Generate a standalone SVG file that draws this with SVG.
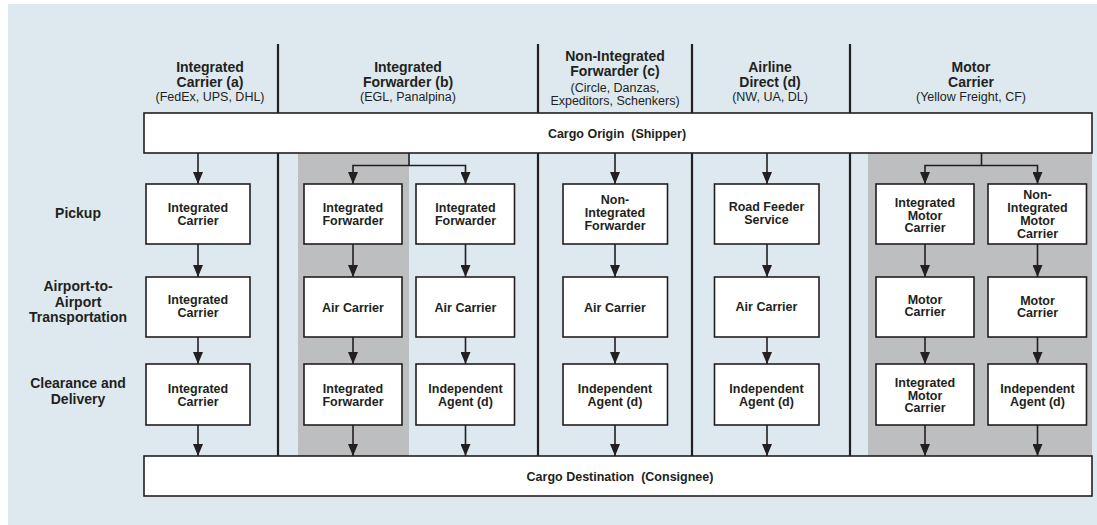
<svg xmlns="http://www.w3.org/2000/svg" width="1097" height="525" viewBox="0 0 1097 525">
<style>
.bg{fill:#dde9ef}
.panel{fill:#bcbec0}
.box{fill:#fff;stroke:#231f20;stroke-width:1.6}
.div{stroke:#231f20;stroke-width:2.2;fill:none}
.conn{stroke:#231f20;stroke-width:1.6;fill:none}
text{font-family:"Liberation Sans",Arial,sans-serif;fill:#231f20;text-anchor:middle}
.h{font-size:14px;font-weight:bold}
.s{font-size:12.5px}
.n{font-size:12.5px;font-weight:bold}
.r{font-size:14px;font-weight:bold}
</style>
<defs>
<marker id="arr" markerUnits="userSpaceOnUse" markerWidth="12" markerHeight="10" refX="12" refY="5" orient="auto-start-reverse" viewBox="0 0 12 10">
<path d="M0,0 L12,5 L0,10 Z" fill="#231f20"/>
</marker>
</defs>
<rect class="bg" x="8" y="4" width="1089" height="521"/>
<rect class="panel" x="298" y="153" width="111" height="303"/>
<rect class="panel" x="868" y="153" width="224" height="303"/>

<g id="dividers">
<line class="div" x1="278" y1="44" x2="278" y2="456"/>
<line class="div" x1="538" y1="44" x2="538" y2="456"/>
<line class="div" x1="692" y1="44" x2="692" y2="456"/>
<line class="div" x1="850" y1="44" x2="850" y2="456"/>
</g>

<g id="headers">
<text class="h" x="210" y="72">Integrated</text>
<text class="h" x="210" y="87">Carrier (a)</text>
<text class="s" x="210" y="101">(FedEx, UPS, DHL)</text>
<text class="h" x="408" y="72">Integrated</text>
<text class="h" x="408" y="87">Forwarder (b)</text>
<text class="s" x="408" y="101">(EGL, Panalpina)</text>
<text class="h" x="615" y="61">Non-Integrated</text>
<text class="h" x="615" y="76">Forwarder (c)</text>
<text class="s" x="615" y="91.5">(Circle, Danzas,</text>
<text class="s" x="615" y="105">Expeditors, Schenkers)</text>
<text class="h" x="770" y="72">Airline</text>
<text class="h" x="770" y="87">Direct (d)</text>
<text class="s" x="770" y="101">(NW, UA, DL)</text>
<text class="h" x="971" y="72">Motor</text>
<text class="h" x="971" y="87">Carrier</text>
<text class="s" x="971" y="101">(Yellow Freight, CF)</text>
</g>

<g id="rowlabels">
<text class="r" x="78" y="218">Pickup</text>
<text class="r" x="78" y="291">Airport-to-</text>
<text class="r" x="78" y="306.5">Airport</text>
<text class="r" x="78" y="322">Transportation</text>
<text class="r" x="78" y="388">Clearance and</text>
<text class="r" x="78" y="404">Delivery</text>
</g>

<g id="connectors">
<line class="conn" x1="198" y1="153" x2="198" y2="184" marker-end="url(#arr)"/>
<line class="conn" x1="198" y1="244" x2="198" y2="277" marker-end="url(#arr)"/>
<line class="conn" x1="198" y1="337" x2="198" y2="364" marker-end="url(#arr)"/>
<line class="conn" x1="198" y1="425" x2="198" y2="456" marker-end="url(#arr)"/>

<polyline class="conn" points="409,153 409,165.5"/>
<polyline class="conn" points="353,184 353,165.5 465.5,165.5 465.5,184" marker-start="url(#arr)" marker-end="url(#arr)"/>
<line class="conn" x1="353" y1="244" x2="353" y2="277" marker-end="url(#arr)"/>
<line class="conn" x1="353" y1="337" x2="353" y2="364" marker-end="url(#arr)"/>
<line class="conn" x1="353" y1="425" x2="353" y2="456" marker-end="url(#arr)"/>
<line class="conn" x1="465.5" y1="244" x2="465.5" y2="277" marker-end="url(#arr)"/>
<line class="conn" x1="465.5" y1="337" x2="465.5" y2="364" marker-end="url(#arr)"/>
<line class="conn" x1="465.5" y1="425" x2="465.5" y2="456" marker-end="url(#arr)"/>

<line class="conn" x1="615" y1="153" x2="615" y2="184" marker-end="url(#arr)"/>
<line class="conn" x1="615" y1="244" x2="615" y2="277" marker-end="url(#arr)"/>
<line class="conn" x1="615" y1="337" x2="615" y2="364" marker-end="url(#arr)"/>
<line class="conn" x1="615" y1="425" x2="615" y2="456" marker-end="url(#arr)"/>

<line class="conn" x1="767" y1="153" x2="767" y2="184" marker-end="url(#arr)"/>
<line class="conn" x1="767" y1="244" x2="767" y2="277" marker-end="url(#arr)"/>
<line class="conn" x1="767" y1="337" x2="767" y2="364" marker-end="url(#arr)"/>
<line class="conn" x1="767" y1="425" x2="767" y2="456" marker-end="url(#arr)"/>

<polyline class="conn" points="981.5,153 981.5,165.5"/>
<polyline class="conn" points="925,184 925,165.5 1037.5,165.5 1037.5,184" marker-start="url(#arr)" marker-end="url(#arr)"/>
<line class="conn" x1="925" y1="244" x2="925" y2="277" marker-end="url(#arr)"/>
<line class="conn" x1="925" y1="337" x2="925" y2="364" marker-end="url(#arr)"/>
<line class="conn" x1="925" y1="425" x2="925" y2="456" marker-end="url(#arr)"/>
<line class="conn" x1="1037.5" y1="244" x2="1037.5" y2="277" marker-end="url(#arr)"/>
<line class="conn" x1="1037.5" y1="337" x2="1037.5" y2="364" marker-end="url(#arr)"/>
<line class="conn" x1="1037.5" y1="425" x2="1037.5" y2="456" marker-end="url(#arr)"/>
</g>

<g id="origin">
<rect class="box" x="144" y="113" width="948" height="40"/>
<text class="n" x="617" y="138" xml:space="preserve">Cargo Origin  (Shipper)</text>
</g>
<g id="destination">
<rect class="box" x="144" y="456" width="948" height="40"/>
<text class="n" x="620" y="481" xml:space="preserve">Cargo Destination  (Consignee)</text>
</g>

<g id="a1"><rect class="box" x="146" y="184" width="104" height="60"/><text class="n" x="198" y="211.5">Integrated</text><text class="n" x="198" y="224.5">Carrier</text></g>
<g id="a2"><rect class="box" x="146" y="277" width="104" height="60"/><text class="n" x="198" y="303.5">Integrated</text><text class="n" x="198" y="316.5">Carrier</text></g>
<g id="a3"><rect class="box" x="146" y="364" width="104" height="61"/><text class="n" x="198" y="392.5">Integrated</text><text class="n" x="198" y="405.5">Carrier</text></g>

<g id="b1"><rect class="box" x="304" y="184" width="98" height="60"/><text class="n" x="353" y="211.5">Integrated</text><text class="n" x="353" y="224.5">Forwarder</text></g>
<g id="b2"><rect class="box" x="304" y="277" width="98" height="60"/><text class="n" x="353" y="311.5">Air Carrier</text></g>
<g id="b3"><rect class="box" x="304" y="364" width="98" height="61"/><text class="n" x="353" y="392.5">Integrated</text><text class="n" x="353" y="405.5">Forwarder</text></g>

<g id="b4"><rect class="box" x="416" y="184" width="98.5" height="60"/><text class="n" x="465.5" y="211.5">Integrated</text><text class="n" x="465.5" y="224.5">Forwarder</text></g>
<g id="b5"><rect class="box" x="416" y="277" width="98.5" height="60"/><text class="n" x="465.5" y="311.5">Air Carrier</text></g>
<g id="b6"><rect class="box" x="416" y="364" width="98.5" height="61"/><text class="n" x="465.5" y="392.5">Independent</text><text class="n" x="465.5" y="405.5">Agent (d)</text></g>

<g id="c1"><rect class="box" x="563" y="184" width="104.5" height="60"/><text class="n" x="615" y="203.5">Non-</text><text class="n" x="615" y="216.5">Integrated</text><text class="n" x="615" y="229.5">Forwarder</text></g>
<g id="c2"><rect class="box" x="563" y="277" width="104.5" height="60"/><text class="n" x="615" y="311.5">Air Carrier</text></g>
<g id="c3"><rect class="box" x="563" y="364" width="104.5" height="61"/><text class="n" x="615" y="392.5">Independent</text><text class="n" x="615" y="405.5">Agent (d)</text></g>

<g id="d1"><rect class="box" x="714.5" y="184" width="104.5" height="60"/><text class="n" x="766.5" y="211">Road Feeder</text><text class="n" x="766.5" y="224">Service</text></g>
<g id="d2"><rect class="box" x="714.5" y="277" width="104.5" height="60"/><text class="n" x="766.5" y="310.5">Air Carrier</text></g>
<g id="d3"><rect class="box" x="714.5" y="364" width="104.5" height="61"/><text class="n" x="766.5" y="392.5">Independent</text><text class="n" x="766.5" y="405.5">Agent (d)</text></g>

<g id="e1"><rect class="box" x="876" y="184" width="98" height="60"/><text class="n" x="925" y="207">Integrated</text><text class="n" x="925" y="219.5">Motor</text><text class="n" x="925" y="232">Carrier</text></g>
<g id="e2"><rect class="box" x="876" y="277" width="98" height="60"/><text class="n" x="925" y="303.5">Motor</text><text class="n" x="925" y="316">Carrier</text></g>
<g id="e3"><rect class="box" x="876" y="364" width="98" height="61"/><text class="n" x="925" y="387">Integrated</text><text class="n" x="925" y="399.5">Motor</text><text class="n" x="925" y="412">Carrier</text></g>

<g id="e4"><rect class="box" x="988" y="184" width="98.5" height="60"/><text class="n" x="1037.5" y="198.5">Non-</text><text class="n" x="1037.5" y="211.5">Integrated</text><text class="n" x="1037.5" y="224.5">Motor</text><text class="n" x="1037.5" y="237.5">Carrier</text></g>
<g id="e5"><rect class="box" x="988" y="277" width="98.5" height="60"/><text class="n" x="1037.5" y="304.5">Motor</text><text class="n" x="1037.5" y="317">Carrier</text></g>
<g id="e6"><rect class="box" x="988" y="364" width="98.5" height="61"/><text class="n" x="1037.5" y="392.5">Independent</text><text class="n" x="1037.5" y="405.5">Agent (d)</text></g>
</svg>
